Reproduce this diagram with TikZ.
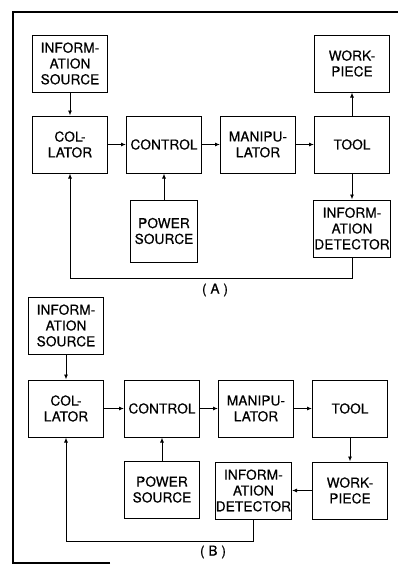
\documentclass[tikz,border=0pt]{standalone}
\usepackage{fontspec}
\usepackage{tikz}
\usetikzlibrary{arrows.meta, positioning}
\newfontfamily\letterfont[LetterSpace=1, FakeBold=0.6]{TeX Gyre Heros}
\newcommand{\blockfont}{\letterfont\fontsize{13.6}{15.8}\selectfont}

\begin{document}
\begin{tikzpicture}[
      x=1pt, y=-1pt,
      node distance=23pt and 18pt,
      blk/.style={draw, line width=1pt, minimum width=75pt, minimum height=57pt, inner sep=0.5pt, align=center, font=\blockfont},
      arr/.style={-{Latex[length=5pt, width=4pt]}, line width=0.9pt},
      caplbl/.style={font=\blockfont}
    ]
      \useasboundingbox (0,0) rectangle (398,565);
      % page frame
      \draw[line width=1.6pt] (110,563) -| (13,12) -- (398,12);

      % (A)
      \node[blk] (colA) at (70,144.5) {COL-\\LATOR};
      \node[blk, above=23pt of colA] (srcA) {INFORM-\\ATION\\SOURCE};
      \node[blk, right=18pt of colA] (ctrlA) {CONTROL};
      \node[blk, right=18pt of ctrlA] (manA) {MANIPU-\\LATOR};
      \node[blk, right=18pt of manA] (toolA) {TOOL};
      \node[blk, above=23pt of toolA] (workA) {WORK-\\PIECE};
      \node[blk, below=26pt of toolA] (detA) {INFORM-\\ATION\\DETECTOR};
      \node[blk, below=26pt of ctrlA, minimum width=67pt, minimum height=62pt] (powA) {POWER\\SOURCE};

      \draw[arr] (srcA) -- (colA);
      \draw[arr] (colA) -- (ctrlA);
      \draw[arr] (ctrlA) -- (manA);
      \draw[arr] (manA) -- (toolA);
      \draw[arr] (toolA) -- (workA);
      \draw[arr] (toolA) -- (detA);
      \draw[arr] (powA) -- (ctrlA);
      \draw[arr] (detA.south) -- ++(0,21) -| (colA.south);

      \node[caplbl] (capA) at (215,290) {( A )};

      % (B)
      \node[blk] (colB) at (66,408.5) {COL-\\LATOR};
      \node[blk, above=25pt of colB] (srcB) {INFORM-\\ATION\\SOURCE};
      \node[blk, right=20pt of colB] (ctrlB) {CONTROL};
      \node[blk, right=18pt of ctrlB] (manB) {MANIPU-\\LATOR};
      \node[blk, right=18pt of manB] (toolB) {TOOL};
      \node[blk, below=24pt of toolB] (workB) {WORK-\\PIECE};
      \node[blk, left=20pt of workB] (detB) {INFORM-\\ATION\\DETECTOR};
      \node[blk, below=23pt of ctrlB] (powB) {POWER\\SOURCE};

      \draw[arr] (srcB) -- (colB);
      \draw[arr] (colB) -- (ctrlB);
      \draw[arr] (ctrlB) -- (manB);
      \draw[arr] (manB) -- (toolB);
      \draw[arr] (toolB) -- (workB);
      \draw[arr] (workB) -- (detB);
      \draw[arr] (powB) -- (ctrlB);
      \draw[arr] (detB.south) -- ++(0,22) -| (colB.south);

      \node[caplbl] (capB) at (213,552) {( B )};
    \end{tikzpicture}
\end{document}
